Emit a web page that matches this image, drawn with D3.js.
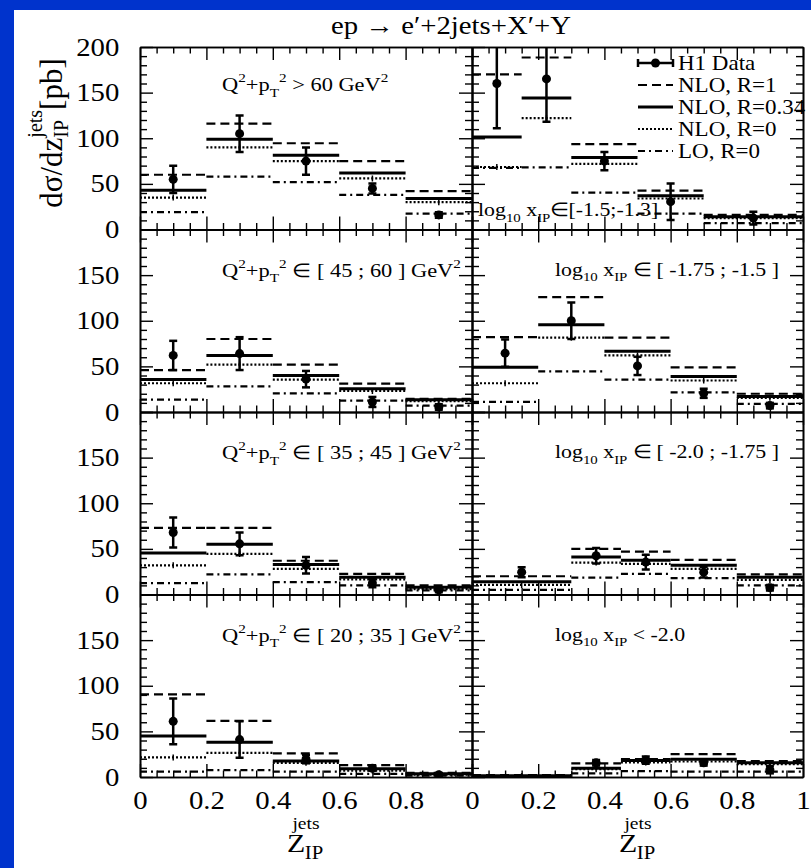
<!DOCTYPE html>
<html><head><meta charset="utf-8">
<script src="https://cdn.jsdelivr.net/npm/d3@7"></script>
<style>
html,body{margin:0;padding:0;background:#0033cc;}
svg{display:block;}
text{font-family:"Liberation Serif","Times New Roman",serif;fill:#000;}
</style>
</head><body>
<svg id="c" width="811" height="868"></svg>
<script>
// ---- bin edges in z_IP^jets ----
const edgesUniform = [0, 0.2, 0.4, 0.6, 0.8, 1.0];
const edgesXpomHigh = [0, 0.15, 0.3, 0.5, 0.7, 1.0];
const edgesXpomLow = [0, 0.3, 0.45, 0.6, 0.8, 1.0];

// ---- left column: Q^2+pT^2 bins, top to bottom ----
const q2Edges = [edgesUniform, edgesUniform, edgesUniform, edgesUniform];
const q2NLO_R1   = [[60, 116, 94.5, 75, 42], [46, 80, 52, 31, 14.5], [73, 73, 37, 22.5, 10], [90.5, 61.5, 26, 13, 4.5]];
const q2NLO_R034 = [[43, 99, 81.5, 62, 34], [35.5, 62, 40, 25.5, 13.5], [45.5, 55, 33, 19, 8], [45, 38, 17.5, 9, 3.5]];
const q2NLO_R0   = [[35, 90, 75, 56, 30], [31.5, 52, 35.5, 23, 12], [32, 44.5, 28, 16.5, 6], [21.5, 26.5, 15.5, 7, 2.5]];
const q2LO_R0    = [[19, 58, 52, 38, 17.5], [13.5, 28, 20.5, 12.5, 7], [12.5, 22, 13.5, 10, 4.5], [6, 7.5, 6, 3.5, 1.5]];
const q2Data     = [[55, 105, 75, 45, 16], [62, 64, 36, 11, 5.5], [68, 55.5, 32, 12.5, 5], [61, 41, 19.5, 9.5, 2.5]];
const q2Err      = [[15, 20, 15, 5.5, 3], [16, 18, 9, 5.5, 3], [16.5, 12.5, 9, 4.5, 2.5], [25, 20, 4.5, 2.5, 1.5]];

// ---- right column: log10 x_IP bins, top to bottom ----
const xpEdges = [edgesXpomHigh, edgesUniform, edgesXpomLow, edgesXpomLow];
const xpNLO_R1   = [[170, 188.5, 93.5, 42.5, 16], [82, 126, 81.5, 49, 20], [20, 50, 47, 38, 22], [2, 15, 19.5, 25, 17.5]];
const xpNLO_R034 = [[101.5, 144, 79, 37, 14], [49, 95.5, 66.5, 39, 17], [14, 41, 37.5, 32, 19], [1.5, 9.5, 18, 19.5, 15.5]];
const xpNLO_R0   = [[68.5, 122, 72, 34, 12.5], [31.5, 81.5, 62, 34.5, 15.5], [10.5, 35, 33.5, 28, 16], [1, 8.5, 16, 17, 14]];
const xpLO_R0    = [[67.5, 68, 40.5, 17.5, 7], [11, 44.5, 35.5, 21.5, 9], [5, 18.5, 22.5, 18, 10], [0.5, 4, 6.5, 6, 6]];
const xpData     = [[160, 165, 75, 30.5, 12.5], [64.5, 100, 50.5, 20.5, 7], [24.5, 42.5, 35.5, 24.5, 7.5], [null, 15.5, 18.5, 15.5, 8]];
const xpErr      = [[49, 47, 10, 20, 7], [15, 20, 10, 5, 3], [5.5, 8.5, 8, 6, 3], [0, 3, 4, 3, 4]];

// ---- axis ticks ----
const yMajorTicks = [0, 50, 100, 150, 200];
const xMajorTicks = [0, 0.2, 0.4, 0.6, 0.8, 1.0];
const xLabelsLeft = [0, 0.2, 0.4, 0.6, 0.8];
const xLabelsRight = [0, 0.2, 0.4, 0.6, 0.8, 1.0];

const legendLabels = ["H1 Data", "NLO, R=1", "NLO, R=0.34", "NLO, R=0", " LO, R=0"];

// ---- layout ----
const SX = 1.15;               // horizontal stretch of the typeset text
const colX = [[140, 472], [472, 803]];
const rowTop0 = 47, rowH = 182.5;
const svg = d3.select("#c");

svg.append("rect").attr("x", 14).attr("y", 10).attr("width", 811 - 14).attr("height", 868 - 10).attr("fill", "#fff");

const styles = {
  r1:   {w: 2.2, dash: "9,5"},
  r034: {w: 3.0, dash: null},
  r0:   {w: 2.2, dash: "2,2"},
  lo:   {w: 2.2, dash: "7,4,2,4"}
};

function rich(parent, x, y, size, parts, anchor) {
  const g = parent.append("g").attr("transform", `translate(${x},${y}) scale(${SX},1)`);
  const t = g.append("text").attr("font-size", size).attr("text-anchor", anchor || "start");
  let cur = 0;
  parts.forEach(p => {
    const target = p.sup ? -0.45 * size : p.sub ? 0.3 * size : 0;
    const ts = t.append("tspan").attr("dy", target - cur).text(p.t);
    if (p.sup || p.sub) ts.attr("font-size", size * 0.68);
    cur = target;
  });
  return t;
}

const q2Text = [
  [{t: "Q"}, {t: "2", sup: 1}, {t: "+p"}, {t: "T", sub: 1}, {t: "2", sup: 1}, {t: " > 60 GeV"}, {t: "2", sup: 1}],
  [{t: "Q"}, {t: "2", sup: 1}, {t: "+p"}, {t: "T", sub: 1}, {t: "2", sup: 1}, {t: " \u2208 [ 45 ; 60 ] GeV"}, {t: "2", sup: 1}],
  [{t: "Q"}, {t: "2", sup: 1}, {t: "+p"}, {t: "T", sub: 1}, {t: "2", sup: 1}, {t: " \u2208 [ 35 ; 45 ] GeV"}, {t: "2", sup: 1}],
  [{t: "Q"}, {t: "2", sup: 1}, {t: "+p"}, {t: "T", sub: 1}, {t: "2", sup: 1}, {t: " \u2208 [ 20 ; 35 ] GeV"}, {t: "2", sup: 1}]
];
const xpText = [
  [{t: "log"}, {t: "10", sub: 1}, {t: " x"}, {t: "IP", sub: 1}, {t: "\u2208[-1.5;-1.3]"}],
  [{t: "log"}, {t: "10", sub: 1}, {t: " x"}, {t: "IP", sub: 1}, {t: " \u2208 [ -1.75 ; -1.5 ]"}],
  [{t: "log"}, {t: "10", sub: 1}, {t: " x"}, {t: "IP", sub: 1}, {t: " \u2208 [ -2.0 ; -1.75 ]"}],
  [{t: "log"}, {t: "10", sub: 1}, {t: " x"}, {t: "IP", sub: 1}, {t: " < -2.0"}]
];

function drawPanel(col, row) {
  const [x0, x1] = colX[col];
  const top = rowTop0 + row * rowH, bottom = top + rowH;
  const x = d3.scaleLinear().domain([0, 1]).range([x0, x1]);
  const y = d3.scaleLinear().domain([0, 200]).range([bottom, top]);
  const id = `clip${col}${row}`;
  svg.append("clipPath").attr("id", id).append("rect")
    .attr("x", x0).attr("y", top).attr("width", x1 - x0).attr("height", rowH);
  const g = svg.append("g").attr("clip-path", `url(#${id})`);

  const edges = col === 0 ? q2Edges[row] : xpEdges[row];
  const series = col === 0
    ? [[q2LO_R0[row], "lo"], [q2NLO_R0[row], "r0"], [q2NLO_R1[row], "r1"], [q2NLO_R034[row], "r034"]]
    : [[xpLO_R0[row], "lo"], [xpNLO_R0[row], "r0"], [xpNLO_R1[row], "r1"], [xpNLO_R034[row], "r034"]];

  series.forEach(([vals, key]) => {
    const st = styles[key];
    g.selectAll(null).data(vals).enter().append("line")
      .attr("x1", (d, i) => x(edges[i])).attr("x2", (d, i) => x(edges[i + 1]))
      .attr("y1", d => y(d)).attr("y2", d => y(d))
      .attr("stroke", "#000").attr("stroke-width", st.w)
      .attr("stroke-dasharray", st.dash);
    if (key === "r0") {
      g.selectAll(null).data(vals).enter().append("line")
        .attr("x1", (d, i) => x((edges[i] + edges[i + 1]) / 2)).attr("x2", (d, i) => x((edges[i] + edges[i + 1]) / 2))
        .attr("y1", d => y(d) - 3).attr("y2", d => y(d) + 3)
        .attr("stroke", "#000").attr("stroke-width", 1.5);
    }
  });

  const data = col === 0 ? q2Data[row] : xpData[row];
  const err = col === 0 ? q2Err[row] : xpErr[row];
  const pts = data.map((v, i) => ({v, e: err[i], c: (edges[i] + edges[i + 1]) / 2})).filter(d => d.v !== null);
  const pg = g.selectAll(null).data(pts).enter().append("g");
  pg.append("line").attr("x1", d => x(d.c)).attr("x2", d => x(d.c))
    .attr("y1", d => y(d.v + d.e)).attr("y2", d => y(d.v - d.e))
    .attr("stroke", "#000").attr("stroke-width", 2.5);
  [1, -1].forEach(s => {
    pg.append("line").attr("x1", d => x(d.c) - 4).attr("x2", d => x(d.c) + 4)
      .attr("y1", d => y(d.v + s * d.e)).attr("y2", d => y(d.v + s * d.e))
      .attr("stroke", "#000").attr("stroke-width", 2.5);
  });
  pg.append("circle").attr("cx", d => x(d.c)).attr("cy", d => y(d.v)).attr("r", 4.5).attr("fill", "#000");

  // frame and inward ticks on all four sides
  const ax = svg.append("g");
  const xMinor = d3.range(0, 1.0001, 0.05).filter(v => Math.abs(v / 0.2 - Math.round(v / 0.2)) > 1e-6);
  const yMinor = d3.range(0, 200.001, 10).filter(v => v % 50 !== 0);
  const isBottom = row === 3;
  const bAx = d3.axisBottom(x).tickValues(xMajorTicks).tickSizeInner(-13).tickSizeOuter(0).tickPadding(6)
    .tickFormat(v => {
      if (!isBottom) return "";
      const labs = col === 0 ? xLabelsLeft : xLabelsRight;
      return labs.some(l => Math.abs(l - v) < 1e-9) ? d3.format("~g")(v) : "";
    });
  ax.append("g").attr("transform", `translate(0,${bottom})`).call(bAx);
  ax.append("g").attr("transform", `translate(0,${bottom})`).call(d3.axisBottom(x).tickValues(xMinor).tickSizeInner(-6.5).tickSizeOuter(0).tickFormat(""));
  ax.append("g").attr("transform", `translate(0,${top})`).call(d3.axisTop(x).tickValues(xMajorTicks).tickSizeInner(-13).tickSizeOuter(0).tickFormat(""));
  ax.append("g").attr("transform", `translate(0,${top})`).call(d3.axisTop(x).tickValues(xMinor).tickSizeInner(-6.5).tickSizeOuter(0).tickFormat(""));
  const lAx = d3.axisLeft(y).tickValues(yMajorTicks).tickSizeInner(-13).tickSizeOuter(0).tickPadding(18)
    .tickFormat(v => (col === 0 && (v < 200 || row === 0)) ? v : "");
  ax.append("g").attr("transform", `translate(${x0},0)`).call(lAx);
  ax.append("g").attr("transform", `translate(${x0},0)`).call(d3.axisLeft(y).tickValues(yMinor).tickSizeInner(-7).tickSizeOuter(0).tickFormat(""));
  ax.append("g").attr("transform", `translate(${x1},0)`).call(d3.axisRight(y).tickValues(yMajorTicks).tickSizeInner(-13).tickSizeOuter(0).tickFormat(""));
  ax.append("g").attr("transform", `translate(${x1},0)`).call(d3.axisRight(y).tickValues(yMinor).tickSizeInner(-7).tickSizeOuter(0).tickFormat(""));
  ax.selectAll("path.domain").attr("stroke", "#000").attr("stroke-width", 1.6);
  ax.selectAll(".tick line").attr("stroke", "#000").attr("stroke-width", 1.4);
  ax.selectAll(".tick text").attr("font-family", "Liberation Serif, serif").attr("font-size", 25).attr("fill", "#000");
  ax.selectAll(".tick text").attr("transform", `scale(${SX},1)`);

  // bin annotation
  if (col === 0) {
    rich(svg, 222, top + (row === 0 ? 44 : 47), 19.5, q2Text[row]);
  } else if (row === 0) {
    rich(svg, 478, top + 169, 19, xpText[row]);
  } else {
    rich(svg, 555, top + 46, 19, xpText[row]);
  }
}

for (let r = 0; r < 4; r++) for (let c = 0; c < 2; c++) drawPanel(c, r);

// bottom tick labels baseline placement
svg.selectAll(".tick text").each(function () {
  const t = d3.select(this);
  if (t.attr("dy") === "0.71em") t.attr("y", 14);
});

// ---- legend (top-right panel) ----
const lg = svg.append("g");
const legY = [63, 85, 107, 129, 151];
const lx0 = 638, lx1 = 673;
const legKeys = ["data", "r1", "r034", "r0", "lo"];
legKeys.forEach((k, i) => {
  const yy = legY[i];
  if (k === "data") {
    lg.append("line").attr("x1", lx0).attr("x2", lx1).attr("y1", yy).attr("y2", yy).attr("stroke", "#000").attr("stroke-width", 2.5);
    [lx0, lx1].forEach(xx => lg.append("line").attr("x1", xx).attr("x2", xx).attr("y1", yy - 4).attr("y2", yy + 4).attr("stroke", "#000").attr("stroke-width", 2.5));
    lg.append("circle").attr("cx", (lx0 + lx1) / 2).attr("cy", yy).attr("r", 4.5).attr("fill", "#000");
  } else {
    const st = styles[k];
    lg.append("line").attr("x1", lx0).attr("x2", lx1).attr("y1", yy).attr("y2", yy)
      .attr("stroke", "#000").attr("stroke-width", st.w).attr("stroke-dasharray", st.dash);
  }
  rich(lg, 678, yy + 7, 20, [{t: legendLabels[i]}]);
});

// ---- titles ----
rich(svg, 451, 34, 25, [{t: "ep \u2192 e\u2032+2jets+X\u2032+Y"}], "middle");

// y axis title, rotated
const yt = svg.append("g").attr("transform", "translate(62,133) rotate(-90)")
  .append("text").attr("font-size", 31).attr("text-anchor", "middle");
yt.append("tspan").text("d\u03c3/dz");
const ipSpan = yt.append("tspan").attr("font-size", 20).attr("dy", 6).text("IP");
const jetsSpan = yt.append("tspan").attr("font-size", 20).attr("dy", -26).text("jets");
jetsSpan.attr("dx", -ipSpan.node().getComputedTextLength());
yt.append("tspan").attr("dy", 20).text("[pb]");

// x axis titles
[[306], [638]].forEach(([cx]) => {
  rich(svg, cx, 829, 17, [{t: "jets"}], "middle");
  rich(svg, cx - 10, 852, 26, [{t: "Z"}], "middle");
  rich(svg, cx + 8, 859, 18, [{t: "IP"}], "middle");
});
</script>
</body></html>
